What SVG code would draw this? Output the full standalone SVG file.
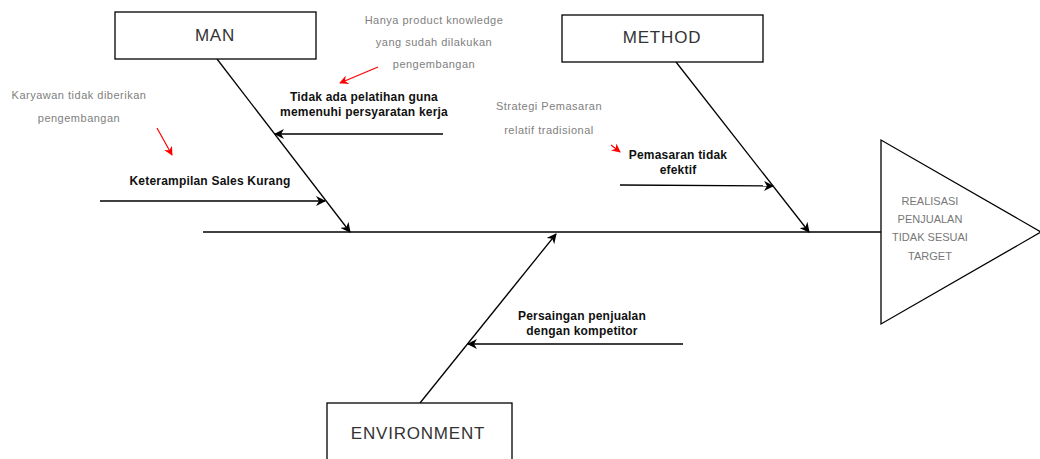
<svg xmlns="http://www.w3.org/2000/svg" width="1040" height="459" viewBox="0 0 1040 459">
<style>
.box{fill:#fff;stroke:#000;stroke-width:1.3}
.lbl{font-family:"Liberation Sans",Arial,sans-serif;font-size:17px;letter-spacing:0.8px;fill:#333;text-anchor:middle}
.cause{font-family:"Liberation Sans",Arial,sans-serif;font-size:12px;letter-spacing:0.2px;font-weight:bold;fill:#111;text-anchor:middle}
.note{font-family:"Liberation Sans",Arial,sans-serif;font-size:11px;letter-spacing:0.5px;fill:#808080;text-anchor:middle}
.head{font-family:"Liberation Sans",Arial,sans-serif;font-size:11px;fill:#777;text-anchor:middle}
.ln{stroke:#000;stroke-width:1.3;fill:none}
.red{stroke:#f00;stroke-width:1.2;fill:none}
</style>
<defs>
<marker id="arr" viewBox="0 0 10 10" refX="9" refY="5" markerWidth="10" markerHeight="10" markerUnits="userSpaceOnUse" orient="auto">
<path d="M0,0 L10,5 L0,10 L3,5 Z" fill="#000"/>
</marker>
<marker id="arrR" viewBox="0 0 10 10" refX="9" refY="5" markerWidth="9" markerHeight="9" markerUnits="userSpaceOnUse" orient="auto">
<path d="M0,0 L10,5 L0,10 L3,5 Z" fill="#f00"/>
</marker>
</defs>
<g id="connectors">
<line class="ln" x1="203" y1="232" x2="881" y2="232"/>
<line class="ln" x1="217" y1="59" x2="350" y2="232" marker-end="url(#arr)"/>
<line class="ln" x1="676" y1="62" x2="809" y2="232" marker-end="url(#arr)"/>
<line class="ln" x1="420" y1="403" x2="556" y2="234" marker-end="url(#arr)"/>
<line class="ln" x1="443" y1="134" x2="275" y2="134" marker-end="url(#arr)"/>
<line class="ln" x1="100" y1="201" x2="325" y2="201" marker-end="url(#arr)"/>
<line class="ln" x1="620" y1="185" x2="773" y2="186" marker-end="url(#arr)"/>
<line class="ln" x1="683" y1="344" x2="468" y2="344" marker-end="url(#arr)"/>
<line class="red" x1="378" y1="67" x2="340" y2="83" marker-end="url(#arrR)"/>
<line class="red" x1="157" y1="128" x2="172" y2="155" marker-end="url(#arrR)"/>
<line class="red" x1="611" y1="145" x2="620" y2="152" marker-end="url(#arrR)"/>
</g>
<g id="man">
<rect class="box" x="115" y="12" width="201" height="47"/>
<text class="lbl" x="215" y="41">MAN</text>
</g>
<g id="method">
<rect class="box" x="562" y="15" width="201" height="47"/>
<text class="lbl" x="662" y="43">METHOD</text>
</g>
<g id="environment">
<rect class="box" x="327" y="403" width="185" height="70"/>
<text class="lbl" x="418" y="439">ENVIRONMENT</text>
</g>
<g id="effect">
<polygon class="box" points="881,140 881,324 1041,232"/>
<text class="head" x="930" y="205">REALISASI</text>
<text class="head" x="930" y="223">PENJUALAN</text>
<text class="head" x="930" y="241">TIDAK SESUAI</text>
<text class="head" x="930" y="260">TARGET</text>
</g>
<g id="cause-pelatihan">
<text class="cause" x="364" y="101">Tidak ada pelatihan guna</text>
<text class="cause" x="364" y="116">memenuhi persyaratan kerja</text>
</g>
<g id="cause-keterampilan">
<text class="cause" x="210" y="185">Keterampilan Sales Kurang</text>
</g>
<g id="cause-pemasaran">
<text class="cause" x="678" y="159">Pemasaran tidak</text>
<text class="cause" x="678" y="174">efektif</text>
</g>
<g id="cause-persaingan">
<text class="cause" x="582" y="320">Persaingan penjualan</text>
<text class="cause" x="582" y="335">dengan kompetitor</text>
</g>
<g id="note-hanya">
<text class="note" x="434" y="24">Hanya product knowledge</text>
<text class="note" x="434" y="46">yang sudah dilakukan</text>
<text class="note" x="434" y="68">pengembangan</text>
</g>
<g id="note-karyawan">
<text class="note" x="79" y="99">Karyawan tidak diberikan</text>
<text class="note" x="79" y="122">pengembangan</text>
</g>
<g id="note-strategi">
<text class="note" x="549" y="110">Strategi Pemasaran</text>
<text class="note" x="549" y="134">relatif tradisional</text>
</g>
</svg>
